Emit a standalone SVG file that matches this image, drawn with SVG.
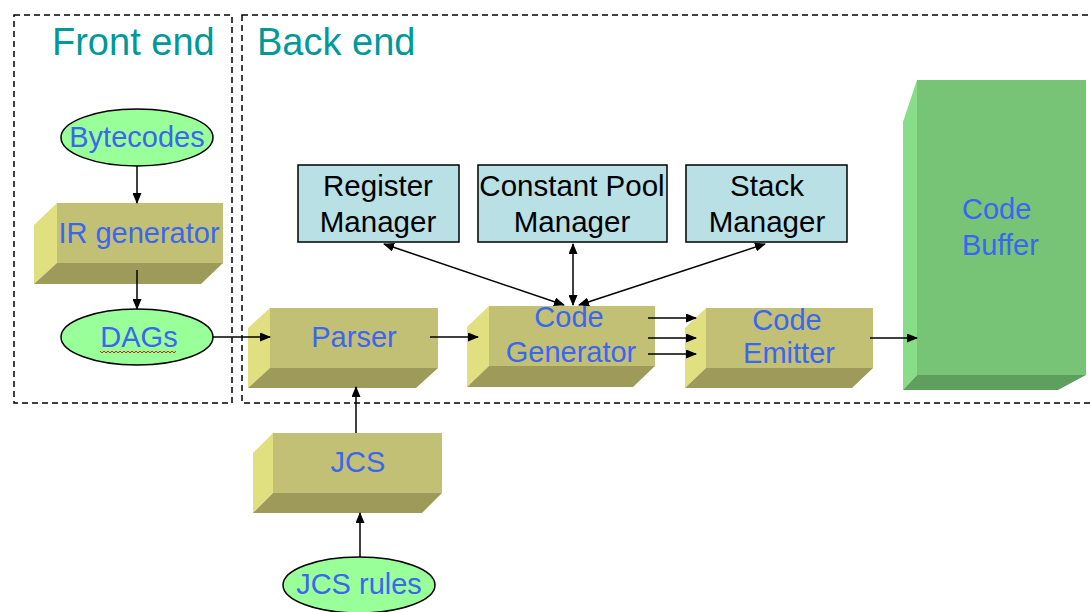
<svg xmlns="http://www.w3.org/2000/svg" width="1090" height="612" viewBox="0 0 1090 612">
  <style>
    .frame { fill: none; stroke: #000; stroke-width: 1.5; stroke-dasharray: 6 4; }
    .title { font-family: "Liberation Sans", Arial, sans-serif; font-size: 38px; fill: #00999a; }
    .lbl { font-family: "Liberation Sans", Arial, sans-serif; font-size: 29px; fill: #3a66f0; }
    .mgr-lbl { font-family: "Liberation Sans", Arial, sans-serif; font-size: 29.5px; fill: #000; text-anchor: middle; }
    .mid { text-anchor: middle; }
    .oval { fill: #99ff99; stroke: #000; stroke-width: 1.5; }
    .mgr { fill: #b9e0e4; stroke: #000; stroke-width: 1.5; }
    .front { fill: #c2c074; }
    .side { fill: #e0e080; }
    .bottom { fill: #9e9a5a; }
    .g-front { fill: #77c477; }
    .g-side { fill: #88dd88; }
    .g-bottom { fill: #5e9e5e; }
    .wire { fill: none; stroke: #000; stroke-width: 1.5; marker-end: url(#arrow); }
    .wire2 { fill: none; stroke: #000; stroke-width: 1.5; marker-start: url(#arrow); marker-end: url(#arrow); }
  </style>
  <defs>
    <marker id="arrow" markerUnits="userSpaceOnUse" markerWidth="11" markerHeight="9" refX="10" refY="4.5" orient="auto-start-reverse">
      <path d="M0,0 L11,4.5 L0,9 Z" fill="#000"/>
    </marker>
  </defs>

  <rect width="1090" height="612" fill="#fff"/>

  <!-- dashed region frames -->
  <g id="regions">
    <rect class="frame" x="14" y="15" width="218" height="388"/>
    <rect class="frame" x="242" y="15" width="860" height="388"/>
    <text class="title" x="52" y="55">Front end</text>
    <text class="title" x="257" y="55">Back end</text>
  </g>

  <g id="bytecodes">
    <ellipse class="oval" cx="137" cy="137.5" rx="76" ry="28.5"/>
    <text class="lbl mid" x="137" y="147">Bytecodes</text>
  </g>

  <g id="ir-generator">
    <polygon class="side" points="34,225 57,203 57,263 34,284"/>
    <polygon class="bottom" points="57,263 223,263 201,284 34,284"/>
    <rect class="front" x="57" y="203" width="166" height="60"/>
    <text class="lbl mid" x="139" y="243">IR generator</text>
  </g>

  <g id="dags">
    <ellipse class="oval" cx="137" cy="337" rx="76" ry="28"/>
    <text class="lbl mid" x="139" y="347">DAGs</text>
    <polyline points="100,351 102,353 104,351 106,353 108,351 110,353 112,351 114,353 116,351 118,353 120,351 122,353 124,351 126,353 128,351 130,353 132,351 134,353 136,351 138,353 140,351 142,353 144,351 146,353 148,351 150,353 152,351 154,353 156,351 158,353 160,351 162,353 164,351 166,353 168,351 170,353 172,351 174,353 176,351" fill="none" stroke="#e02020" stroke-width="1"/>
  </g>

  <g id="parser">
    <polygon class="side" points="248,328 270,308 270,368 248,388"/>
    <polygon class="bottom" points="270,368 438,368 416,388 248,388"/>
    <rect class="front" x="270" y="308" width="168" height="60"/>
    <text class="lbl mid" x="354" y="347">Parser</text>
  </g>

  <g id="jcs">
    <polygon class="side" points="253,453 273,433 273,493 253,513"/>
    <polygon class="bottom" points="273,493 442,493 422,513 253,513"/>
    <rect class="front" x="273" y="433" width="169" height="60"/>
    <text class="lbl mid" x="358" y="472">JCS</text>
  </g>

  <g id="jcs-rules">
    <ellipse class="oval" cx="359" cy="585" rx="76" ry="28"/>
    <text class="lbl mid" x="359" y="594">JCS rules</text>
  </g>

  <g id="register-manager">
    <rect class="mgr" x="298" y="165" width="161" height="77"/>
    <text class="mgr-lbl" x="378" y="196">Register</text>
    <text class="mgr-lbl" x="378" y="232">Manager</text>
  </g>

  <g id="constant-pool-manager">
    <rect class="mgr" x="478" y="165" width="189" height="77"/>
    <text class="mgr-lbl" x="572" y="196">Constant Pool</text>
    <text class="mgr-lbl" x="572" y="232">Manager</text>
  </g>

  <g id="stack-manager">
    <rect class="mgr" x="686" y="165" width="161" height="77"/>
    <text class="mgr-lbl" x="767" y="196">Stack</text>
    <text class="mgr-lbl" x="767" y="232">Manager</text>
  </g>

  <g id="code-generator">
    <polygon class="side" points="467,327 489,306 489,366 467,387"/>
    <polygon class="bottom" points="489,366 655,366 633,387 467,387"/>
    <rect class="front" x="489" y="306" width="166" height="60"/>
    <text class="lbl mid" x="569" y="327">Code</text>
    <text class="lbl mid" x="571" y="362">Generator</text>
  </g>

  <g id="code-emitter">
    <polygon class="side" points="685,328 706,308 706,368 685,388"/>
    <polygon class="bottom" points="706,368 873,368 852,388 685,388"/>
    <rect class="front" x="706" y="308" width="167" height="60"/>
    <text class="lbl mid" x="787" y="330">Code</text>
    <text class="lbl mid" x="789" y="363">Emitter</text>
  </g>

  <g id="code-buffer">
    <polygon class="g-side" points="903,122 917,80 917,375 903,390"/>
    <polygon class="g-bottom" points="917,375 1086,375 1058,390 903,390"/>
    <rect class="g-front" x="917" y="80" width="169" height="295"/>
    <text class="lbl" x="962" y="219">Code</text>
    <text class="lbl" x="962" y="255">Buffer</text>
  </g>

  <!-- connectors, drawn over the blocks -->
  <g id="connectors">
    <line class="wire" x1="137" y1="166" x2="137" y2="203"/>
    <line class="wire" x1="137" y1="270" x2="137" y2="309"/>
    <line class="wire" x1="213" y1="337" x2="270" y2="337"/>
    <line class="wire" x1="430" y1="337" x2="478" y2="337"/>
    <line class="wire" x1="356" y1="433" x2="356" y2="387"/>
    <line class="wire" x1="360" y1="557" x2="360" y2="513"/>
    <line class="wire2" x1="384" y1="244" x2="564" y2="305"/>
    <line class="wire2" x1="573" y1="244" x2="573" y2="305"/>
    <line class="wire2" x1="765" y1="244" x2="579" y2="305"/>
    <line class="wire" x1="648" y1="318" x2="696" y2="318"/>
    <line class="wire" x1="648" y1="338" x2="696" y2="338"/>
    <line class="wire" x1="648" y1="354" x2="696" y2="354"/>
    <line class="wire" x1="870" y1="338" x2="917" y2="338"/>
  </g>
</svg>
